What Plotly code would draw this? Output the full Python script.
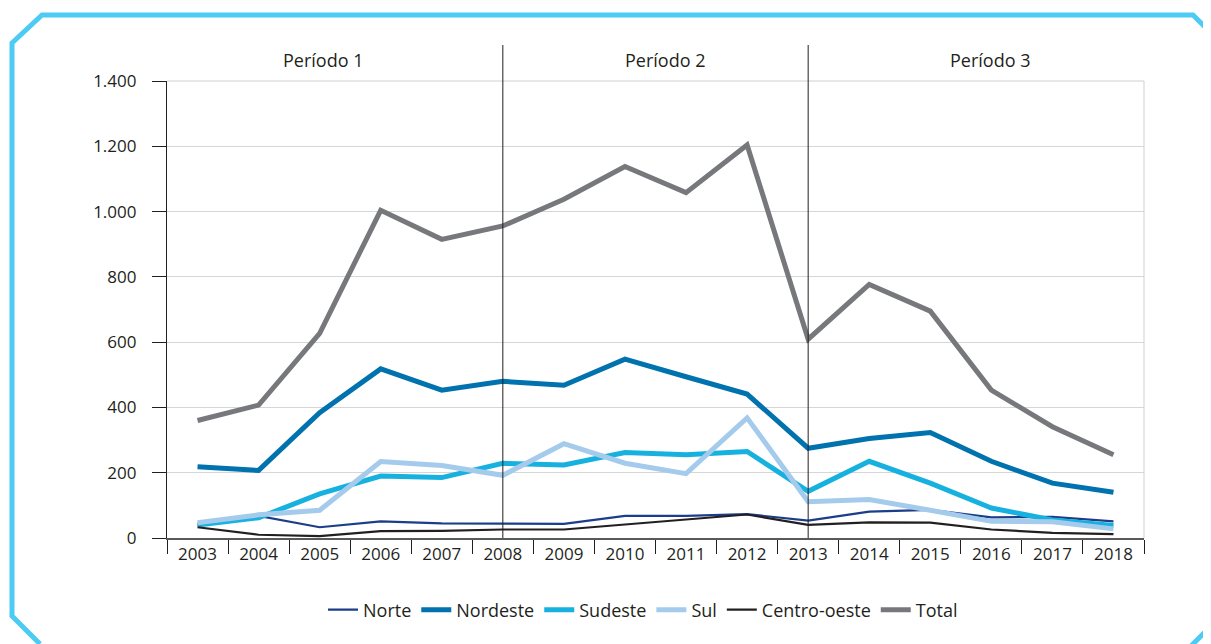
import plotly.graph_objects as go

years = [str(y) for y in range(2003, 2019)]
norte = [40, 68, 33, 51, 45, 43, 43, 68, 68, 73, 53, 81, 86, 63, 65, 51]
nordeste = [218, 207, 384, 518, 453, 480, 468, 548, 494, 441, 275, 305, 323, 235, 168, 140]
sudeste = [40, 62, 135, 190, 185, 229, 224, 262, 255, 265, 143, 235, 168, 92, 55, 38]
sul = [47, 71, 85, 234, 222, 192, 289, 229, 197, 368, 111, 118, 85, 51, 50, 28]
centro_oeste = [33, 10, 6, 21, 22, 26, 26, 41, 55, 72, 40, 48, 47, 26, 16, 12]
total = [360, 407, 627, 1004, 915, 956, 1038, 1138, 1058, 1204, 609, 777, 695, 453, 341, 255]

series = [
    ("Norte", norte, "#1b3d8a", 2.2),
    ("Nordeste", nordeste, "#0072ae", 5),
    ("Sudeste", sudeste, "#17b1e0", 5),
    ("Sul", sul, "#a4cbec", 5),
    ("Centro-oeste", centro_oeste, "#231f20", 2.2),
    ("Total", total, "#77787b", 5),
]

periods = ["Período 1", "Período 2", "Período 3"]
period_pos = [2.05, 7.65, 12.97]
dividers = [5, 10]

OFF = 8  # page body margin
SW, SH = 1211, 644
W, H = SW - OFF, SH - OFF
# plot area in screen pixels
X0, X1, Y0, Y1 = 167, 1144, 81, 538
L, R, T, B = X0 - OFF, SW - X1, Y0 - OFF, SH - Y1
PW, PH = X1 - X0, Y1 - Y0

def px(x):
    return (x - X0) / PW

def py(y):
    return (Y1 - y) / PH

FONT = "Open Sans"
TXT = "#231f20"

fig = go.Figure()
for name, vals, color, w in series:
    fig.add_trace(go.Scatter(
        x=years, y=vals, name=name, mode="lines",
        line=dict(color=color, width=w),
    ))

# frame
pts = [(40, 644), (12, 616), (12, 43), (42, 15), (1193, 15), (1240, 62), (1240, 597), (1190, 647)]
path = "M " + " L ".join(f"{px(a):.5f},{py(b):.5f}" for a, b in pts)
fig.add_shape(type="path", path=path, xref="paper", yref="paper",
              line=dict(color="#4ccbf4", width=5), layer="above")

# right border and top line
fig.add_shape(type="line", xref="paper", yref="paper", x0=1, x1=1, y0=0, y1=1,
              line=dict(color="#cfcfcf", width=1))
fig.add_shape(type="line", xref="paper", yref="paper", x0=0, x1=1, y0=1, y1=1,
              line=dict(color="#d0d0d0", width=1))

for d in dividers:
    fig.add_shape(type="line", xref="x", yref="paper", x0=d, x1=d, y0=0, y1=py(45),
                  line=dict(color="#231f20", width=1), layer="above")

for lab, pos in zip(periods, period_pos):
    fig.add_annotation(x=pos, y=py(60), xref="x", yref="paper", text=lab,
                       xanchor="center", yanchor="middle",
                       showarrow=False, font=dict(family=FONT, size=18, color=TXT))

fig.update_layout(
    width=W, height=H,
    margin=dict(l=L, r=R, t=T, b=B),
    paper_bgcolor="white", plot_bgcolor="white",
    separators=",.",
    font=dict(family=FONT, size=16, color=TXT),
    showlegend=True,
    legend=dict(orientation="h", x=px(643), xanchor="center", y=py(610), yanchor="middle",
                font=dict(family=FONT, size=18, color=TXT), traceorder="normal",
                itemwidth=30, tracegroupgap=0),
)
fig.update_xaxes(
    type="category", range=[-0.5, 15.5], tickson="boundaries",
    ticks="outside", ticklen=14, tickcolor="#231f20", tickwidth=1,
    showline=True, linecolor="#58595b", linewidth=1.5, showgrid=False,
    tickfont=dict(family=FONT, size=17, color=TXT),
)
fig.update_yaxes(
    range=[0, 1400], dtick=200, tickformat=",d",
    ticks="outside", ticklen=14, tickcolor="#231f20", tickwidth=1,
    showline=True, linecolor="#231f20", linewidth=1.2,
    showgrid=True, gridcolor="#d6d6d6", gridwidth=1, zeroline=False,
    tickfont=dict(family=FONT, size=17, color=TXT), ticklabelstandoff=12,
)

fig.write_html("out.html")
